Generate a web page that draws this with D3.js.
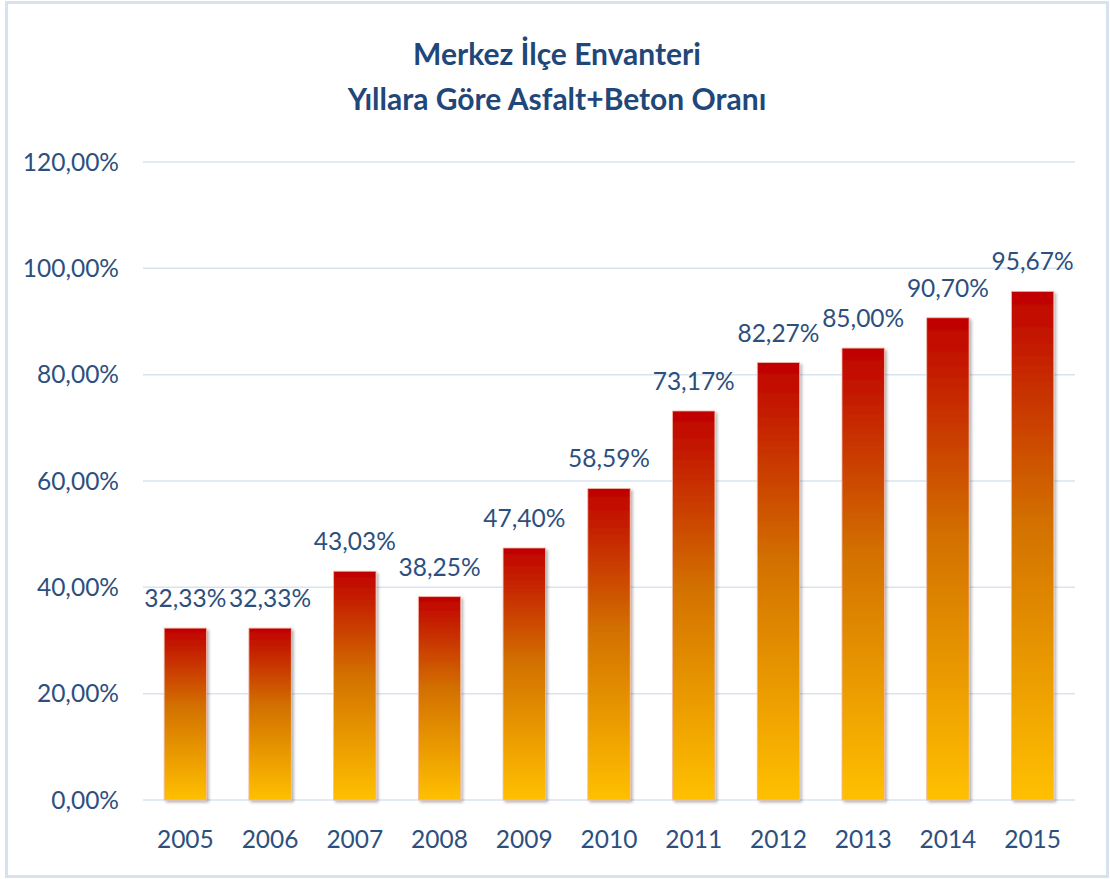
<!DOCTYPE html>
<html lang="tr">
<head>
<meta charset="UTF-8">
<title>Merkez İlçe Envanteri</title>
<style>
  html, body { margin: 0; padding: 0; background: #fff; }
  svg text { font-family: Lato, "Open Sans", sans-serif; }
</style>
</head>
<body>
<div id="chart"></div>
<script src="https://cdn.jsdelivr.net/npm/d3@7"></script>
<script>
// data
var years = ["2005", "2006", "2007", "2008", "2009", "2010", "2011", "2012", "2013", "2014", "2015"];
var ratios = [32.33, 32.33, 43.03, 38.25, 47.40, 58.59, 73.17, 82.27, 85.00, 90.70, 95.67];
var yTicks = [0, 20, 40, 60, 80, 100, 120];
var titleLines = ["Merkez İlçe Envanteri", "Yıllara Göre Asfalt+Beton Oranı"];

var W = 1110, H = 879;
var margin = {top: 162, right: 35, bottom: 79, left: 143};
var textColor = "#2d4f7e";

var svg = d3.select("#chart").append("svg")
  .attr("width", W)
  .attr("height", H);

// frame around the chart
svg.append("rect")
  .attr("x", 6.5).attr("y", 2.5)
  .attr("width", W - 9).attr("height", H - 5)
  .attr("fill", "#fff")
  .attr("stroke", "#d7e2f1")
  .attr("stroke-width", 3);

var defs = svg.append("defs");
var grad = defs.append("linearGradient")
  .attr("id", "barGrad")
  .attr("x1", 0).attr("y1", 0).attr("x2", 0).attr("y2", 1);
grad.append("stop").attr("offset", "0%").attr("stop-color", "#c00000");
grad.append("stop").attr("offset", "45%").attr("stop-color", "#d27000");
grad.append("stop").attr("offset", "100%").attr("stop-color", "#ffc000");

var shadow = defs.append("filter")
  .attr("id", "shadow")
  .attr("x", "-20%").attr("y", "-5%").attr("width", "150%").attr("height", "115%");
shadow.append("feDropShadow")
  .attr("dx", 2).attr("dy", 2)
  .attr("stdDeviation", 1.8)
  .attr("flood-color", "#000")
  .attr("flood-opacity", 0.3);

var x = d3.scaleBand()
  .domain(years)
  .range([margin.left, W - margin.right])
  .paddingInner(0.5)
  .paddingOuter(0.25);

var y = d3.scaleLinear()
  .domain([0, 120])
  .range([H - margin.bottom, margin.top]);

var fmt = function(v) { return d3.format(".2f")(v).replace(".", ",") + "%"; };

// gridlines
svg.append("g")
  .selectAll("line")
  .data(yTicks)
  .join("line")
  .attr("x1", margin.left)
  .attr("x2", W - margin.right)
  .attr("y1", d => y(d))
  .attr("y2", d => y(d))
  .attr("stroke", "#d9e4f1")
  .attr("stroke-width", 1.5);

// y tick labels
svg.append("g")
  .selectAll("text")
  .data(yTicks)
  .join("text")
  .attr("x", 119)
  .attr("y", d => y(d) + 8.5)
  .attr("text-anchor", "end")
  .attr("font-size", 24.5)
  .attr("fill", textColor)
  .text(d => fmt(d));

// bars
svg.append("g")
  .selectAll("rect")
  .data(ratios)
  .join("rect")
  .attr("x", (d, i) => x(years[i]))
  .attr("y", d => y(d))
  .attr("width", x.bandwidth())
  .attr("height", d => y(0) - y(d))
  .attr("fill", "url(#barGrad)")
  .attr("stroke", "#f2b8a8")
  .attr("stroke-width", 0.8)
  .attr("filter", "url(#shadow)");

// value labels
svg.append("g")
  .selectAll("text")
  .data(ratios)
  .join("text")
  .attr("x", (d, i) => x(years[i]) + x.bandwidth() / 2)
  .attr("y", d => y(d) - 21)
  .attr("text-anchor", "middle")
  .attr("font-size", 24.5)
  .attr("fill", textColor)
  .text(d => fmt(d));

// year labels
svg.append("g")
  .selectAll("text")
  .data(years)
  .join("text")
  .attr("x", d => x(d) + x.bandwidth() / 2)
  .attr("y", 848)
  .attr("text-anchor", "middle")
  .attr("font-size", 24.5)
  .attr("fill", textColor)
  .text(d => d);

// title
svg.append("g")
  .selectAll("text")
  .data(titleLines)
  .join("text")
  .attr("x", 557)
  .attr("y", (d, i) => 65 + i * 45)
  .attr("text-anchor", "middle")
  .attr("font-size", 30)
  .attr("font-weight", "bold")
  .attr("fill", "#1f477a")
  .text(d => d);
</script>
</body>
</html>
